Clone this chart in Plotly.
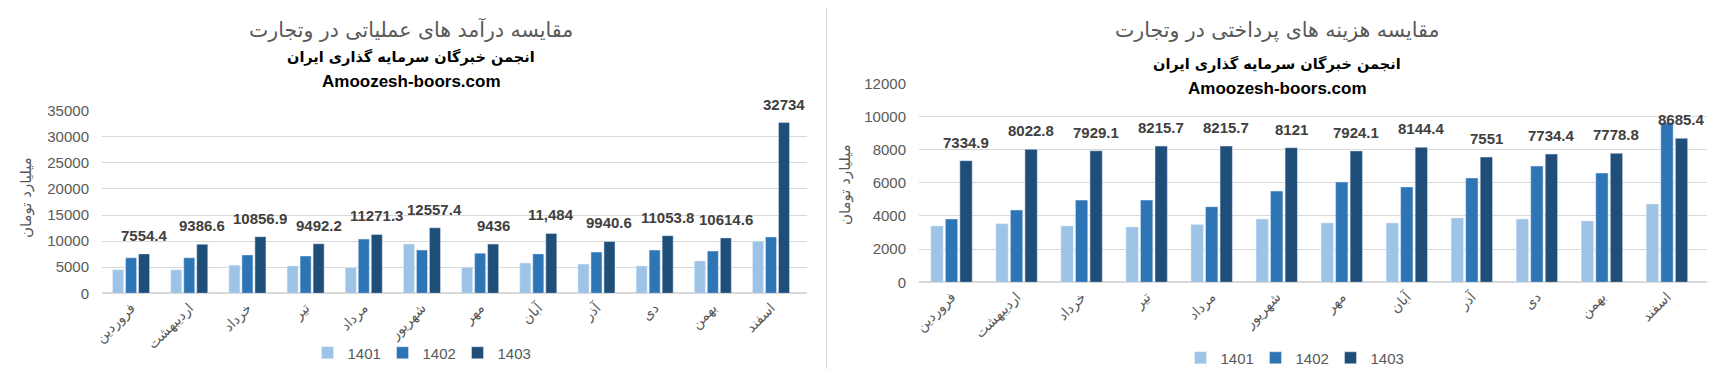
import plotly.graph_objects as go

months = ["فروردین", "اردیبهشت", "خرداد", "تیر", "مرداد", "شهریور",
          "مهر", "آبان", "آذر", "دی", "بهمن", "اسفند"]
years = ["1401", "1402", "1403"]

rev_1401 = [4500, 4500, 5400, 5250, 4900, 9450, 5000, 5800, 5600, 5250, 6200, 10000]
rev_1402 = [6800, 6800, 7350, 7150, 10400, 8300, 7700, 7550, 7900, 8300, 8100, 10800]
rev_1403 = [7554.4, 9386.6, 10856.9, 9492.2, 11271.3, 12557.4, 9436, 11484, 9940.6,
            11053.8, 10614.6, 32734]
rev_labels = ["7554.4", "9386.6", "10856.9", "9492.2", "11271.3", "12557.4", "9436",
              "11,484", "9940.6", "11053.8", "10614.6", "32734"]

cost_1401 = [3400, 3530, 3400, 3340, 3480, 3820, 3580, 3580, 3880, 3820, 3700, 4720]
cost_1402 = [3820, 4360, 4960, 4960, 4560, 5500, 6050, 5750, 6290, 7010, 6590, 9620]
cost_1403 = [7334.9, 8022.8, 7929.1, 8215.7, 8215.7, 8121, 7924.1, 8144.4, 7551,
             7734.4, 7778.8, 8685.4]
cost_labels = ["7334.9", "8022.8", "7929.1", "8215.7", "8215.7", "8121", "7924.1",
               "8144.4", "7551", "7734.4", "7778.8", "8685.4"]

title_left = "مقایسه درآمد های عملیاتی در وتجارت"
title_right = "مقایسه هزینه های پرداختی در وتجارت"
subtitle = "انجمن خبرگان سرمایه گذاری ایران"
site = "Amoozesh-boors.com"
ytitle = "میلیارد تومان"

colors = ["#9DC3E6", "#2E75B6", "#1F4E79"]
GRAY = "#595959"
GRID = "#D9D9D9"
NUM_FONT = "Liberation Sans, DejaVu Sans, sans-serif"
FA_FONT = "DejaVu Sans, sans-serif"
BARGAP = 0.33
BARGROUPGAP = 0.15

# page body has an 8px default margin; the figure is sized so the page fits the window
OFF = 8
W, H = 1714, 361


def paper_y(py):
    return 1 - (py - OFF) / H


def paper_x(px):
    return (px - OFF) / W


fig = go.Figure()

for yr, vals, c in zip(years, [rev_1401, rev_1402, rev_1403], colors):
    fig.add_trace(go.Bar(x=months, y=vals, name=yr, marker_color=c,
                         xaxis="x", yaxis="y", legend="legend"))
for yr, vals, c in zip(years, [cost_1401, cost_1402, cost_1403], colors):
    fig.add_trace(go.Bar(x=months, y=vals, name=yr, marker_color=c,
                         xaxis="x2", yaxis="y2", legend="legend2"))

annotations = []
offset = (1 - BARGAP) / 3
for i, (v, t) in enumerate(zip(rev_1403, rev_labels)):
    annotations.append(dict(x=i + offset, y=v, xref="x", yref="y", text=t,
                            showarrow=False, yanchor="bottom", yshift=8,
                            font=dict(family=NUM_FONT, size=15, color="#404040", weight="bold")))
for i, (v, t) in enumerate(zip(cost_1403, cost_labels)):
    annotations.append(dict(x=i + offset, y=v, xref="x2", yref="y2", text=t,
                            showarrow=False, yanchor="bottom", yshift=8,
                            font=dict(family=NUM_FONT, size=15, color="#404040", weight="bold")))

# titles
for cx, ty, sy, uy, txt in [(411, 30, 57, 81, title_left), (1277, 30, 64, 89, title_right)]:
    annotations.append(dict(x=paper_x(cx), y=paper_y(ty), xref="paper", yref="paper",
                            text=txt, showarrow=False, xanchor="center", yanchor="middle",
                            font=dict(family=FA_FONT, size=20.5, color=GRAY)))
    annotations.append(dict(x=paper_x(cx), y=paper_y(sy), xref="paper", yref="paper",
                            text="<b>" + subtitle + "</b>", showarrow=False, xanchor="center",
                            yanchor="middle", font=dict(family=FA_FONT, size=14.5, color="black")))
    annotations.append(dict(x=paper_x(cx), y=paper_y(uy), xref="paper", yref="paper",
                            text="<b>" + site + "</b>", showarrow=False, xanchor="center",
                            yanchor="middle", font=dict(family=NUM_FONT, size=17, color="black")))

# y axis titles
for cx, cy in [(26, 198), (845, 185)]:
    annotations.append(dict(x=paper_x(cx), y=paper_y(cy), xref="paper", yref="paper",
                            text=ytitle, showarrow=False, textangle=-90,
                            xanchor="center", yanchor="middle",
                            font=dict(family=FA_FONT, size=15, color=GRAY)))

axis_common = dict(showgrid=False, showline=True, linecolor=GRID, linewidth=1,
                   automargin=False,
                   tickangle=-45, ticks="", tickfont=dict(family=FA_FONT, size=14, color=GRAY))
yaxis_common = dict(showgrid=True, gridcolor=GRID, gridwidth=1, zeroline=True,
                    zerolinecolor=GRID, showline=False, ticks="", tickformat="d",
                    automargin=False,
                    tickfont=dict(family=NUM_FONT, size=15, color=GRAY),
                    ticklabelstandoff=12)

legend_common = dict(orientation="h", xanchor="center", yanchor="middle",
                     font=dict(family=NUM_FONT, size=15, color=GRAY),
                     bgcolor="rgba(0,0,0,0)", itemwidth=30, entrywidth=30,
                     entrywidthmode="pixels")

fig.update_layout(
    width=W, height=H,
    margin=dict(l=0, r=0, t=0, b=0, pad=0, autoexpand=False),
    paper_bgcolor="white", plot_bgcolor="white",
    barmode="group", bargap=BARGAP, bargroupgap=BARGROUPGAP,
    xaxis=dict(domain=[paper_x(102), paper_x(807)], anchor="y", **axis_common),
    yaxis=dict(domain=[paper_y(293.3), paper_y(110.7)], anchor="x", range=[0, 35000],
               dtick=5000, **yaxis_common),
    xaxis2=dict(domain=[paper_x(919), paper_x(1707)], anchor="y2", **axis_common),
    yaxis2=dict(domain=[paper_y(282.3), paper_y(83.3)], anchor="x2", range=[0, 12000],
                dtick=2000, **yaxis_common),
    legend=dict(x=paper_x(420), y=paper_y(353), **legend_common),
    legend2=dict(x=paper_x(1293), y=paper_y(358), **legend_common),
    annotations=annotations,
    shapes=[
        dict(type="line", xref="paper", yref="paper", x0=paper_x(826.5), x1=paper_x(826.5),
             y0=0, y1=1, line=dict(color=GRID, width=1)),
    ],
    showlegend=True,
)

fig.write_html("out.html")
